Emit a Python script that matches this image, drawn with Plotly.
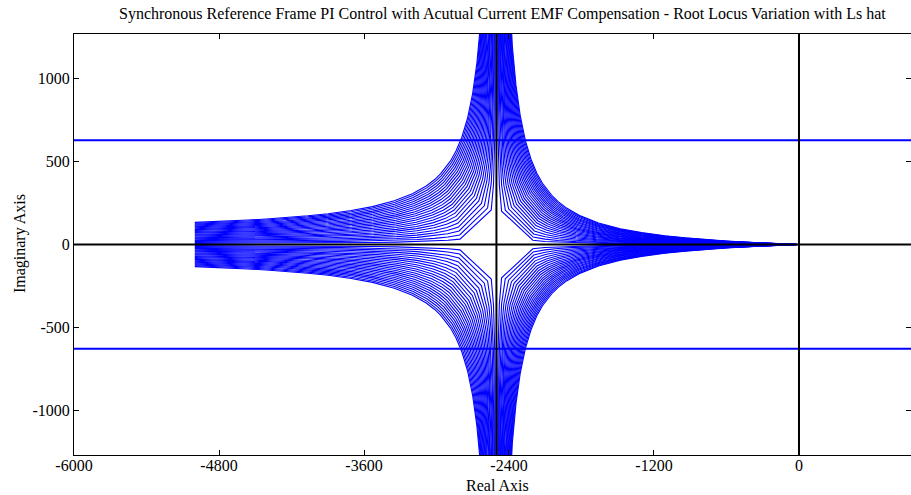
import numpy as np
import plotly.graph_objects as go

# Open-loop pole layout of the current loop for each Ls_hat setting
fast_pole_real = -5000.0          # fast pole (rad/s)
slow_pole_real = -8.0             # slow pole near the origin (rad/s)
# imaginary offset of the fast pole for each Ls_hat estimate (rad/s)
fast_pole_imag = [7, 12.5, 18, 23.5, 29, 34.5, 40, 45.5, 51, 56.5, 62, 67.5,
                  73, 78.5, 84, 89.5, 95, 100.5, 106, 111.5, 117, 122.5, 128, 133]
# loop gains swept by the locus (x 1e6)
loop_gain_1e6 = [0, 0.2, 0.5, 0.9, 1.4, 2.0, 2.6, 3.2, 3.8, 4.3, 4.8, 5.2, 5.55,
                 5.8, 5.97, 6.07, 6.14, 6.27, 6.36, 6.48, 6.65, 6.9, 7.25, 7.8,
                 8.7, 10.2, 13, 18, 30, 60, 150]
# synchronous speed lines (rad/s)
omega_e = 628.0

x_tick_vals = [-6000, -4800, -3600, -2400, -1200, 0, 1200]
y_tick_vals = [-1000, -500, 0, 500, 1000]

title_text = ("Synchronous Reference Frame PI Control with Acutual Current EMF "
              "Compensation - Root Locus Variation with Ls hat")


def locus(imag_offset):
    """Closed-loop roots of (s-p1)(s-p2)+K for the sweep, plus conjugates."""
    p1 = complex(fast_pole_real, imag_offset)
    p2 = complex(slow_pole_real, 0.0)
    k = np.array(loop_gain_1e6) * 1e6
    mid = (p1 + p2) / 2
    disc = ((p1 - p2) / 2) ** 2
    r = np.sqrt(disc - k + 0j)
    b1 = mid - r
    b2 = mid + r
    return [b1, np.conj(b1), b2, np.conj(b2)]


def stack(branches):
    xs, ys = [], []
    for b in branches:
        xs += list(b.real) + [None]
        ys += list(b.imag) + [None]
    return xs, ys


blue_branches = []
for off in fast_pole_imag:
    blue_branches += locus(off)
bx, by = stack(blue_branches)

# nominal (Ls_hat = Ls) locus: real poles meet at their midpoint and split vertically
nominal_breakaway = (fast_pole_real + slow_pole_real) / 2

fig = go.Figure()
fig.add_trace(go.Scatter(x=bx, y=by, mode="lines",
                         line=dict(color="#0000ff", width=1.1),
                         hoverinfo="skip", showlegend=False))

shapes = []
for yv in (omega_e, -omega_e):
    shapes.append(dict(type="line", xref="paper", x0=0, x1=1, yref="y",
                       y0=yv, y1=yv, line=dict(color="#0000ff", width=2)))
shapes.append(dict(type="line", xref="paper", x0=0, x1=1, yref="y",
                   y0=0, y1=0, line=dict(color="#000000", width=2)))
shapes.append(dict(type="line", xref="x", x0=0, x1=0, yref="paper",
                   y0=0, y1=1, line=dict(color="#000000", width=2)))
shapes.append(dict(type="line", xref="x", x0=nominal_breakaway,
                   x1=nominal_breakaway, yref="paper", y0=0, y1=1,
                   line=dict(color="#000000", width=2)))

serif = "Liberation Serif, Times New Roman, serif"

fig.update_layout(
    width=911, height=495,
    margin=dict(l=74, r=0, t=34, b=40),
    paper_bgcolor="white", plot_bgcolor="white",
    font=dict(family=serif, size=16, color="black"),
    shapes=shapes,
    showlegend=False,
    xaxis=dict(range=[-6000, 927], tickvals=x_tick_vals,
               ticktext=[str(v) for v in x_tick_vals],
               showgrid=False, zeroline=False,
               showline=True, linecolor="black", linewidth=1, mirror="ticks",
               ticks="inside", ticklen=5, tickcolor="black",
               ticklabelstandoff=-4,
               tickfont=dict(family=serif, size=16, color="black")),
    yaxis=dict(range=[-1268, 1268], tickvals=y_tick_vals,
               ticktext=[str(v) for v in y_tick_vals],
               showgrid=False, zeroline=False,
               showline=True, linecolor="black", linewidth=1, mirror="ticks",
               ticks="inside", ticklen=5, tickcolor="black",
               tickfont=dict(family=serif, size=16, color="black")),
    annotations=[
        dict(text=title_text, xref="paper", yref="paper", x=0.5125, y=1.0475,
             xanchor="center", yanchor="middle", showarrow=False,
             font=dict(family=serif, size=16, color="black")),
        dict(text="Real Axis", xref="paper", yref="paper", x=0.5054, y=-0.0715,
             xanchor="center", yanchor="middle", showarrow=False,
             font=dict(family=serif, size=16, color="black")),
        dict(text="Imaginary Axis", xref="paper", yref="paper", x=-0.0645, y=0.501,
             xanchor="center", yanchor="middle", showarrow=False, textangle=-90,
             font=dict(family=serif, size=16, color="black")),
    ],
)

fig.write_html("out.html")
